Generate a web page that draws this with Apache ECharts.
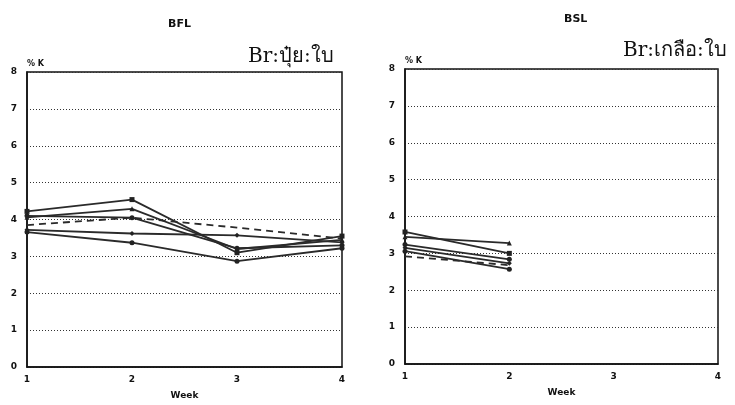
<!DOCTYPE html>
<html><head><meta charset="utf-8">
<script src="https://cdn.jsdelivr.net/npm/echarts@6/dist/echarts.min.js"></script>
<style>html,body{margin:0;padding:0;background:#fff}#c{width:735px;height:405px}</style>
</head><body><div id="c"></div>
<script>
const weeks = [1, 2, 3, 4];
const yTicks = [0, 1, 2, 3, 4, 5, 6, 7, 8];
// BFL (left panel) series, %K per week
const bfl1 = [4.22, 4.54, 3.10, 3.55];
const bfl2 = [4.06, 4.29, 3.20, 3.45];
const bfl3 = [4.10, 4.05, 3.22, 3.30];
const bfl4 = [3.85, 4.05, 3.78, 3.48]; // dashed
const bfl5 = [3.72, 3.62, 3.57, 3.38];
const bfl6 = [3.66, 3.37, 2.87, 3.22];
// BSL (right panel) series, weeks 1-2 only
const bslWeeks = [1, 2];
const bsl1 = [3.58, 3.00];
const bsl2 = [3.45, 3.28];
const bsl3 = [3.24, 2.84];
const bsl4 = [3.15, 2.73];
const bsl5 = [3.06, 2.57];
const bsl6 = [2.92, 2.68]; // dashed

const symbols = ['rect', 'triangle', 'circle', 'none', 'diamond', 'circle'];
function mk(xs, ys, idx, gi) {
  return {
    type: 'line', xAxisIndex: gi, yAxisIndex: gi,
    data: xs.map((x, i) => [x, ys[i]]),
    symbol: symbols[idx], symbolSize: 5,
    itemStyle: { color: '#222' },
    lineStyle: { color: '#2a2a2a', width: 1.8, type: idx === 3 ? [7, 5] : 'solid' },
    animation: false
  };
}
const axisFont = { color: '#111', fontSize: 9, fontWeight: 'bold', fontFamily: 'DejaVu Sans' };
function xAx(gi) {
  return {
    type: 'value', gridIndex: gi, min: 1, max: 4, interval: 1,
    name: 'Week', nameLocation: 'middle', nameGap: 24,
    nameTextStyle: { color: '#111', fontSize: 9, fontWeight: 'bold', fontFamily: 'DejaVu Sans' },
    axisLine: { lineStyle: { color: '#111', width: 1.5 } },
    axisTick: { show: false },
    axisLabel: Object.assign({ margin: 8, formatter: v => weeks.includes(v) ? String(v) : '' }, axisFont),
    splitLine: { show: false }
  };
}
function yAx(gi) {
  return {
    type: 'value', gridIndex: gi, min: yTicks[0], max: yTicks[yTicks.length - 1], interval: 1,
    name: '% K', nameLocation: 'end', nameGap: 4,
    nameTextStyle: { color: '#111', fontSize: 8, fontWeight: 'bold', fontFamily: 'DejaVu Sans', align: 'left' },
    axisLine: { show: true, lineStyle: { color: '#111', width: 1.5 } },
    axisTick: { show: false },
    axisLabel: Object.assign({ margin: 10 }, axisFont),
    splitLine: { show: true, lineStyle: { color: '#333', width: 1, type: [1, 2] } }
  };
}
const chart = echarts.init(document.getElementById('c'), null, { renderer: 'canvas' });
chart.setOption({
  backgroundColor: '#fff',
  animation: false,
  title: [
    { text: 'BFL', left: 163, top: 14, textStyle: { fontSize: 11, fontWeight: 'bold', color: '#111', fontFamily: 'DejaVu Sans' } },
    { text: 'BSL', left: 559, top: 9, textStyle: { fontSize: 11, fontWeight: 'bold', color: '#111', fontFamily: 'DejaVu Sans' } },
    { text: 'Br:ปุ๋ย:ใบ', left: 243, top: 42, textStyle: { fontSize: 20, fontWeight: 'normal', color: '#111', fontFamily: 'DejaVu Serif' } },
    { text: 'Br:เกลือ:ใบ', left: 618, top: 36, textStyle: { fontSize: 20, fontWeight: 'normal', color: '#111', fontFamily: 'DejaVu Serif' } }
  ],
  grid: [
    { left: 27, top: 72, width: 315, height: 295, show: true, borderColor: '#111', borderWidth: 1.5, backgroundColor: 'transparent' },
    { left: 405, top: 69, width: 313, height: 295, show: true, borderColor: '#111', borderWidth: 1.5, backgroundColor: 'transparent' }
  ],
  xAxis: [xAx(0), xAx(1)],
  yAxis: [yAx(0), yAx(1)],
  series: [
    mk(weeks, bfl1, 0, 0), mk(weeks, bfl2, 1, 0), mk(weeks, bfl3, 2, 0),
    mk(weeks, bfl4, 3, 0), mk(weeks, bfl5, 4, 0), mk(weeks, bfl6, 5, 0),
    mk(bslWeeks, bsl1, 0, 1), mk(bslWeeks, bsl2, 1, 1), mk(bslWeeks, bsl3, 2, 1),
    mk(bslWeeks, bsl4, 4, 1), mk(bslWeeks, bsl5, 5, 1), mk(bslWeeks, bsl6, 3, 1)
  ]
});
</script></body></html>
